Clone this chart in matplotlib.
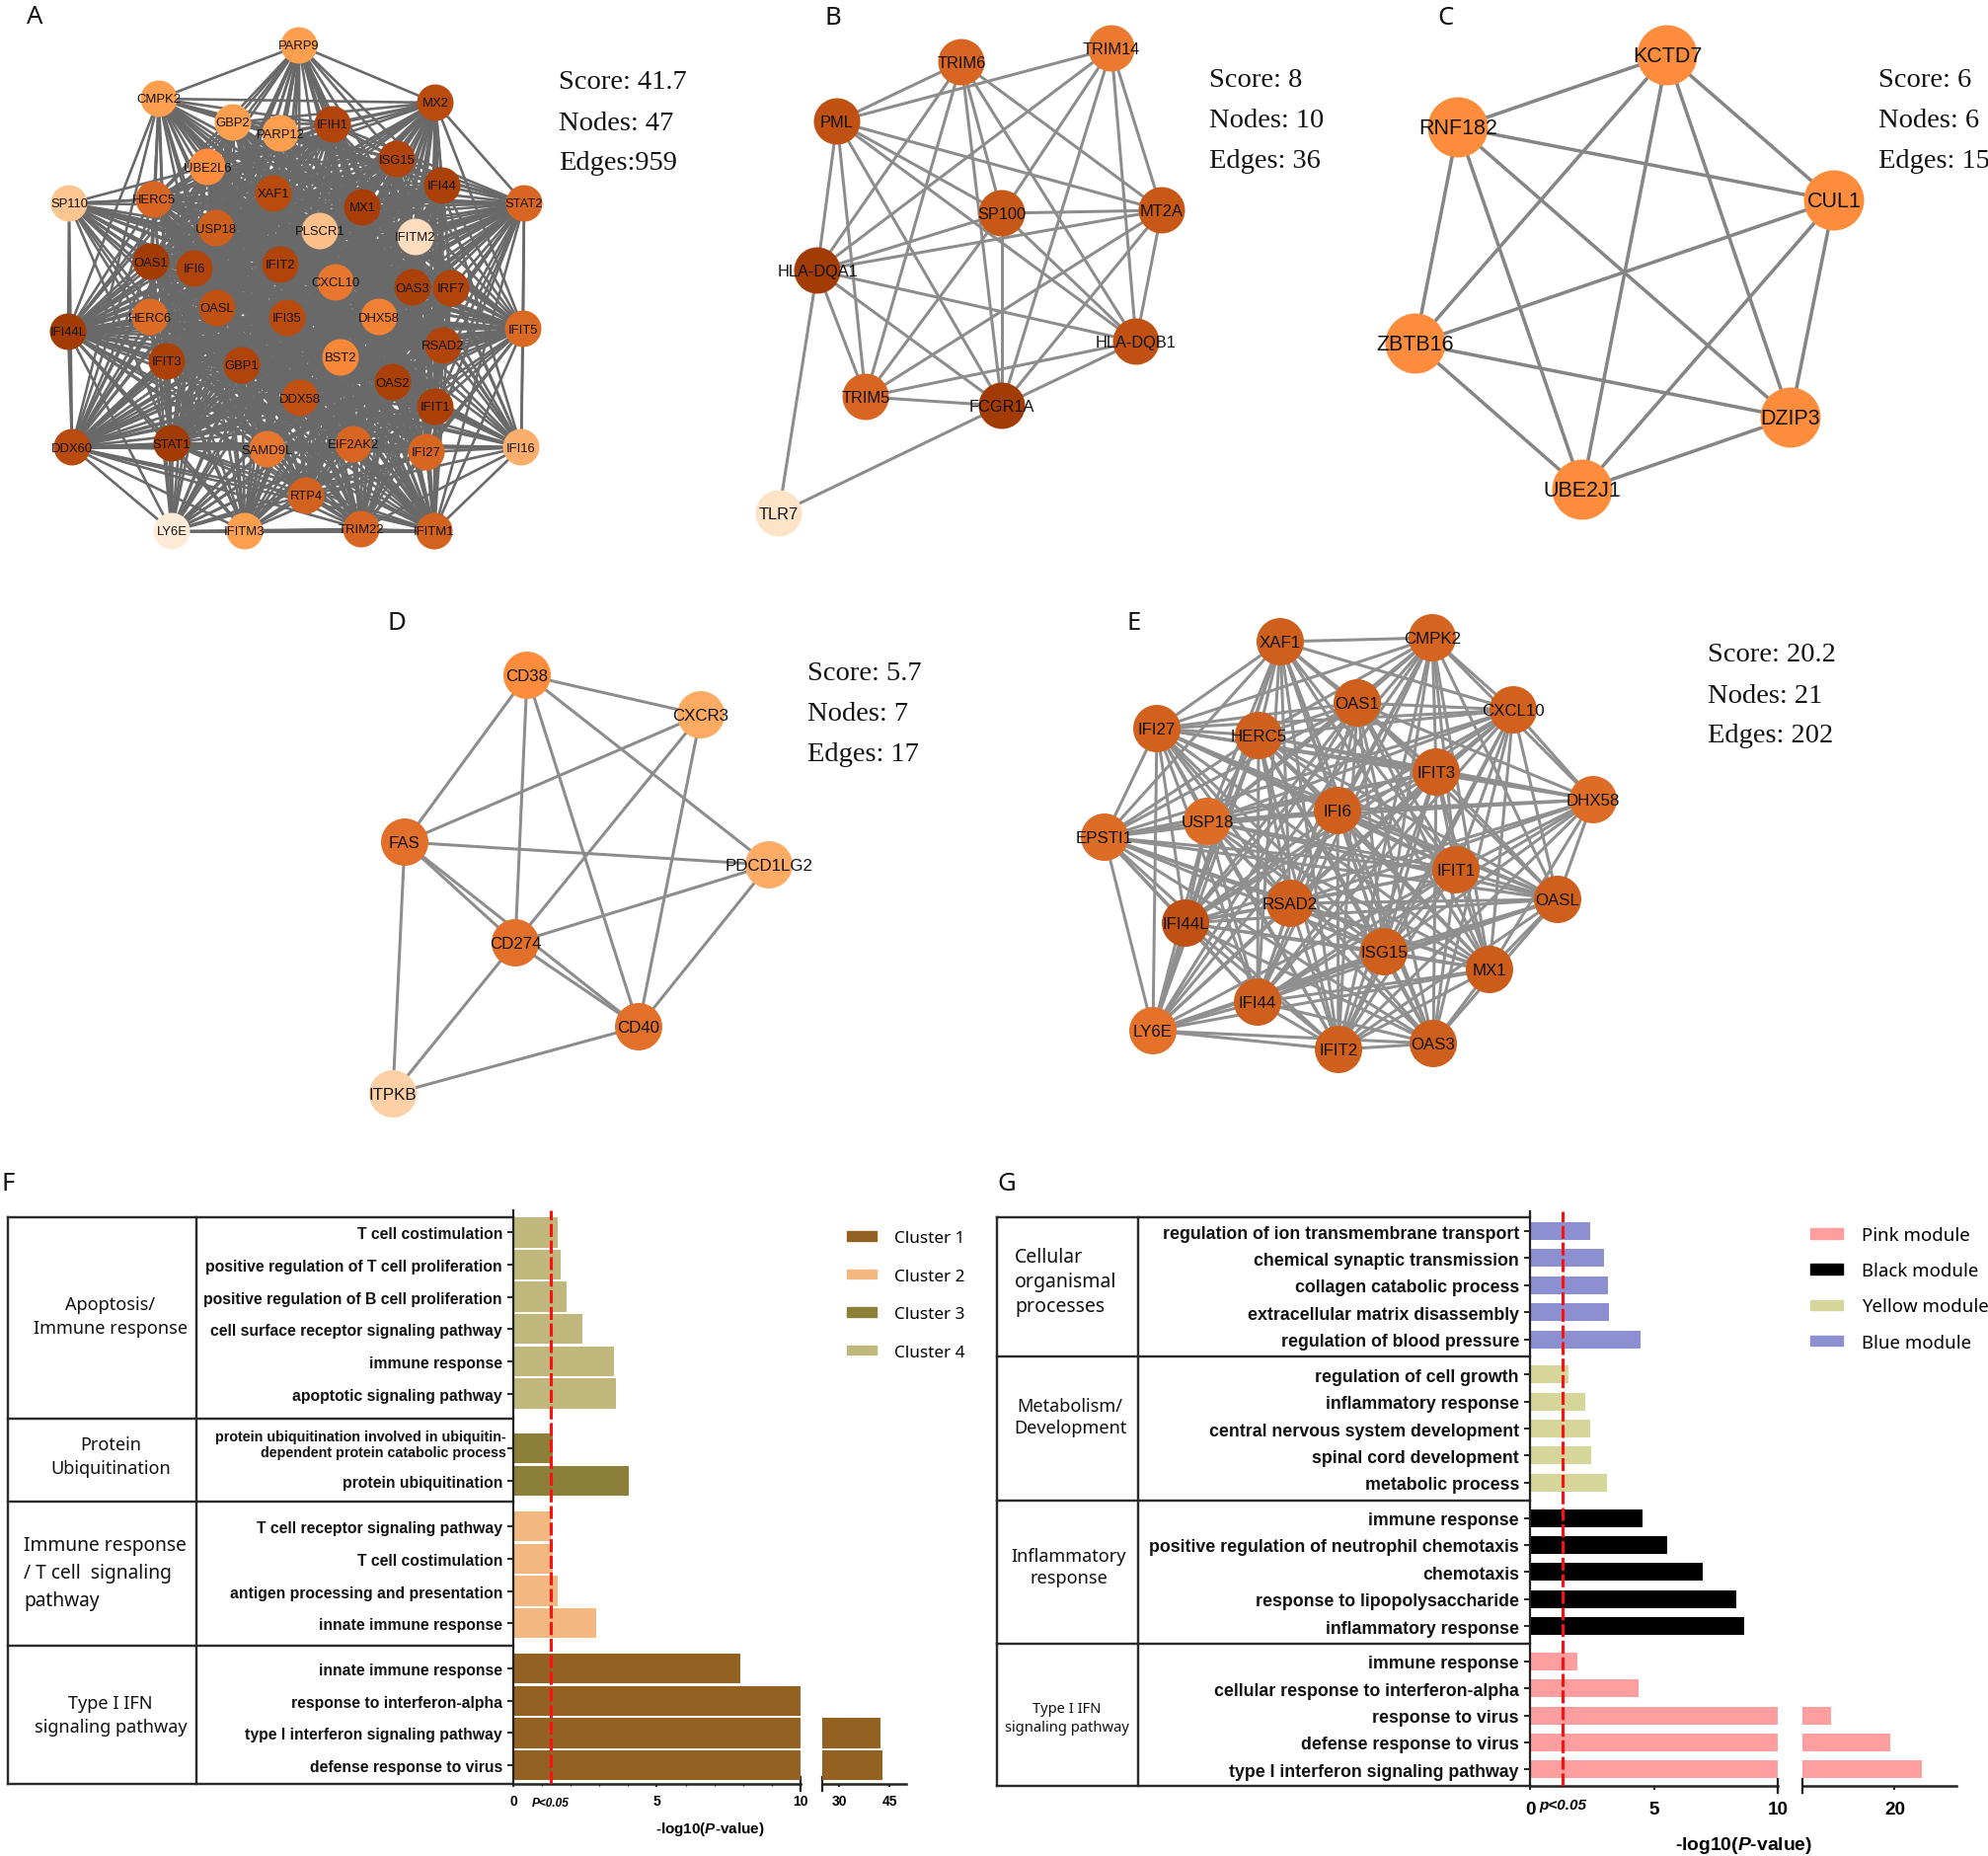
from itertools import combinations

import matplotlib
matplotlib.use("Agg")
import matplotlib.pyplot as plt
from matplotlib.colors import LinearSegmentedColormap
from matplotlib.patches import Patch

W, H = 2015, 1881
plt.rcParams["font.family"] = ["Liberation Sans", "DejaVu Sans"]
plt.rcParams["mathtext.fontset"] = "custom"
plt.rcParams["mathtext.bfit"] = "Liberation Sans:italic:bold"
plt.rcParams["mathtext.rm"] = "Liberation Sans:bold"

# panel A
a_names = ["PARP9", "CMPK2", "MX2", "GBP2", "PARP12", "IFIH1", "ISG15", "UBE2L6", "IFI44", "SP110",
           "HERC5", "XAF1", "MX1", "STAT2", "USP18", "PLSCR1", "IFITM2", "OAS1", "IFI6", "IFIT2",
           "CXCL10", "OAS3", "IRF7", "HERC6", "OASL", "IFI35", "DHX58", "IFI44L", "IFIT5", "RSAD2",
           "IFIT3", "GBP1", "BST2", "OAS2", "DDX58", "IFIT1", "DDX60", "STAT1", "SAMD9L", "EIF2AK2",
           "IFI27", "IFI16", "RTP4", "LY6E", "IFITM3", "TRIM22", "IFITM1"]
a_x = [303, 161, 441, 236, 284, 337, 402, 210, 448, 70,
       156, 277, 367, 531, 219, 324, 421, 153, 197, 284,
       340, 418, 457, 152, 220, 291, 384, 69, 530, 449,
       169, 245, 345, 398, 304, 441, 73, 174, 271, 358,
       432, 528, 310, 174, 248, 366, 440]
a_y = [47, 101, 105, 125, 136, 127, 162, 170, 189, 207,
       203, 197, 211, 207, 232, 235, 241, 266, 273, 269,
       287, 292, 293, 322, 313, 323, 322, 337, 334, 351,
       367, 371, 363, 388, 404, 413, 454, 450, 456, 451,
       459, 454, 503, 539, 539, 537, 539]
a_shade = [.4, .4, .88, .4, .4, .92, .92, .5, .95, .2,
           .72, .88, .97, .72, .78, .22, .08, 1., .92, .92,
           .62, .95, .92, .68, .85, .88, .56, 1., .7, .92,
           .95, .92, .53, .95, .85, .95, .88, 1., .62, .72,
           .72, .3, .75, 0., .4, .72, .75]
a_absent = {
    "SP110": ["CMPK2", "PARP9", "MX2", "STAT2", "GBP2", "PARP12", "IFIH1", "ISG15", "IFI44", "IFI16",
              "LY6E", "IFITM3", "TRIM22", "IFITM1", "IFITM2", "PLSCR1", "RTP4", "BST2"],
    "LY6E": ["PARP9", "CMPK2", "MX2", "GBP2", "PARP12", "IFIH1", "STAT2", "IFI16", "IFITM2", "PLSCR1",
             "BST2", "UBE2L6", "HERC5", "IFI44", "ISG15", "XAF1", "DHX58", "IFIT5"],
    "IFITM2": ["PARP9", "CMPK2", "GBP2", "PARP12", "IFI16", "IFITM3", "UBE2L6", "BST2", "PLSCR1",
               "DHX58", "RTP4", "SAMD9L", "TRIM22", "EIF2AK2", "DDX60", "HERC6", "IFI44L"],
    "PLSCR1": ["PARP9", "CMPK2", "IFI16", "UBE2L6", "GBP2", "PARP12", "RTP4", "TRIM22", "SAMD9L",
               "DDX60", "IFITM3", "DHX58", "HERC6", "IFIT5", "STAT2"],
    "IFI16": ["PARP9", "CMPK2", "UBE2L6", "GBP2", "PARP12", "HERC5", "USP18", "HERC6", "IFITM3",
              "SAMD9L", "BST2", "DHX58", "MX2", "IFI44L"],
    "PARP9": ["STAT2", "IFIT5", "DDX60", "IFI44L", "IFITM3", "RTP4", "TRIM22", "IFITM1", "SAMD9L",
              "BST2", "EIF2AK2", "HERC6"],
    "CMPK2": ["STAT2", "IFIT5", "IFITM3", "RTP4", "TRIM22", "IFITM1", "SAMD9L", "BST2", "EIF2AK2", "IFI27"],
    "IFITM3": ["GBP2", "PARP12", "UBE2L6", "BST2", "DHX58", "MX2", "STAT2", "IFIT5", "HERC5", "EIF2AK2"],
    "GBP2": ["RTP4", "TRIM22", "SAMD9L", "BST2"],
    "PARP12": ["RTP4", "TRIM22", "SAMD9L", "BST2"],
}

# panel B
b_names = ["TRIM6", "TRIM14", "PML", "SP100", "MT2A", "HLA-DQA1", "HLA-DQB1", "TRIM5", "FCGR1A", "TLR7"]
b_x = [974, 1126, 848, 1015, 1177, 828, 1151, 877, 1015, 789]
b_y = [64, 50, 124, 217, 214, 275, 347, 403, 412, 521]
b_shade = [.72, .6, .85, .82, .82, 1., .85, .72, 1., .05]
b_absent = {
    "TLR7": ["TRIM6", "TRIM14", "PML", "SP100", "MT2A", "HLA-DQB1", "TRIM5"],
    "TRIM14": ["TRIM6", "TRIM5"],
}

# panel C
c_names = ["KCTD7", "RNF182", "CUL1", "ZBTB16", "DZIP3", "UBE2J1"]
c_x = [1689, 1477, 1858, 1434, 1814, 1603]
c_y = [57, 130, 204, 349, 424, 497]
c_shade = [.5, .5, .5, .5, .5, .5]
c_absent = {}

# panel D
d_names = ["CD38", "CXCR3", "FAS", "PDCD1LG2", "CD274", "CD40", "ITPKB"]
d_x = [534, 710, 410, 779, 522, 647, 398]
d_y = [685, 725, 854, 877, 956, 1041, 1109]
d_shade = [.5, .33, .65, .32, .65, .65, .15]
d_absent = {"ITPKB": ["CD38", "CXCR3", "PDCD1LG2"], "CXCR3": ["PDCD1LG2"]}

# panel E
e_names = ["XAF1", "CMPK2", "OAS1", "CXCL10", "IFI27", "HERC5", "IFIT3", "DHX58", "IFI6", "USP18", "EPSTI1",
           "IFIT1", "OASL", "RSAD2", "IFI44L", "ISG15", "MX1", "IFI44", "LY6E", "IFIT2", "OAS3"]
e_x = [1297, 1451, 1375, 1533, 1172, 1275, 1455, 1614, 1355, 1223, 1119,
       1475, 1578, 1307, 1201, 1402, 1509, 1274, 1168, 1356, 1452]
e_y = [651, 647, 713, 720, 739, 746, 783, 811, 822, 833, 849,
       882, 912, 916, 936, 965, 983, 1016, 1045, 1064, 1058]
e_shade = [.78, .74, .78, .76, .76, .78, .78, .68, .78, .68, .68,
           .78, .78, .78, .85, .78, .8, .78, .64, .78, .78]
e_absent = {
    "XAF1": ["DHX58", "OASL"],
    "EPSTI1": ["CMPK2", "DHX58"],
    "LY6E": ["CXCL10", "DHX58"],
    "OAS3": ["DHX58", "CMPK2"],
}

# panel F
f_groups = ["Apoptosis/\nImmune response", "Protein\nUbiquitination",
            "Immune response\n/ T cell  signaling\npathway", "Type I IFN\nsignaling pathway"]
f_terms = ["T cell costimulation", "positive regulation of T cell proliferation",
           "positive regulation of B cell proliferation", "cell surface receptor signaling pathway",
           "immune response", "apoptotic signaling pathway",
           "protein ubiquitination involved in ubiquitin-\ndependent protein catabolic process",
           "protein ubiquitination",
           "T cell receptor signaling pathway", "T cell costimulation",
           "antigen processing and presentation", "innate immune response",
           "innate immune response", "response to interferon-alpha",
           "type I interferon signaling pathway", "defense response to virus"]
f_values = [1.53, 1.66, 1.86, 2.41, 3.52, 3.59, 1.36, 4.03, 1.31, 1.38, 1.53, 2.89, 7.9, 10, 42.4, 43]
f_group_sizes = [6, 2, 4, 4]
f_clusters = ["Cluster 1", "Cluster 2", "Cluster 3", "Cluster 4"]
f_cluster_colors = ["#946220", "#F2B880", "#8C7F38", "#BFB77C"]

# panel G
g_groups = ["Cellular\norganismal\nprocesses", "Metabolism/\nDevelopment",
            "Inflammatory\nresponse", "Type I IFN\nsignaling pathway"]
g_terms = ["regulation of ion transmembrane transport", "chemical synaptic transmission",
           "collagen catabolic process", "extracellular matrix disassembly", "regulation of blood pressure",
           "regulation of cell growth", "inflammatory response", "central nervous system development",
           "spinal cord development", "metabolic process",
           "immune response", "positive regulation of neutrophil chemotaxis", "chemotaxis",
           "response to lipopolysaccharide", "inflammatory response",
           "immune response", "cellular response to interferon-alpha", "response to virus",
           "defense response to virus", "type I interferon signaling pathway"]
g_values = [2.42, 2.99, 3.14, 3.2, 4.46, 1.57, 2.24, 2.42, 2.47, 3.12,
            4.56, 5.52, 6.98, 8.32, 8.63, 1.93, 4.38, 13.1, 19.5, 22.9]
g_group_sizes = [5, 5, 5, 5]
g_modules = ["Pink module", "Black module", "Yellow module", "Blue module"]
g_module_colors = ["#FF9E9E", "#000000", "#D6D69A", "#8C90D0"]

node_cmap = LinearSegmentedColormap.from_list(
    "nodes",
    [(0, "#FDEBD8"), (.15, "#FDD0A6"), (.3, "#FDAE6B"), (.4, "#FD9F4F"), (.5, "#FD8D3C"),
     (.65, "#E2702A"), (.8, "#CC5C1A"), (.9, "#B5470C"), (1, "#A33B04")],
)

fig = plt.figure(figsize=(W / 100, H / 100), dpi=100)
canvas = fig.add_axes([0, 0, 1, 1])
canvas.set_xlim(0, W)
canvas.set_ylim(H, 0)
canvas.axis("off")


def px_axes(x0, x1, y0, y1):
    ax = fig.add_axes([x0 / W, 1 - y1 / H, (x1 - x0) / W, (y1 - y0) / H])
    ax.patch.set_alpha(0)
    return ax


def draw_network(names, xs, ys, shades, absent, diameter, font_size, line_px, line_color):
    pos = dict(zip(names, zip(xs, ys)))
    for a, b in combinations(names, 2):
        if b in absent.get(a, []) or a in absent.get(b, []):
            continue
        canvas.plot([pos[a][0], pos[b][0]], [pos[a][1], pos[b][1]], color=line_color,
                    lw=line_px * 0.72, zorder=1, solid_capstyle="butt")
    canvas.scatter(xs, ys, s=(diameter * 0.72) ** 2, c=[node_cmap(float(s)) for s in shades],
                   linewidths=0, zorder=2)
    for name, x, y in zip(names, xs, ys):
        canvas.text(x, y + 0.5, name, fontsize=font_size, ha="center", va="center", color="#111111", zorder=3)


def draw_stats(x, ys, lines):
    for y, line in zip(ys, lines):
        canvas.text(x, y, line, family="Liberation Serif", fontsize=20.5, ha="left", va="baseline", color="#111111")


def row_positions(sizes, gaps):
    rows, pos = [], 0
    for size, gap in zip(sizes, gaps + [0]):
        rows += [pos + i for i in range(size)]
        pos += size - 1 + gap
    return rows


def draw_table(x_left, x_mid, x_right, y_lines, lw_px):
    for y in y_lines:
        canvas.plot([x_left, x_right], [y, y], color="#2b2b2b", lw=lw_px * 0.72, zorder=1)
    for x in (x_left, x_mid):
        canvas.plot([x, x], [y_lines[0], y_lines[-1]], color="#2b2b2b", lw=lw_px * 0.72, zorder=1)


def draw_bars(terms, values, rows, colors, geom, ylim, break_lim, bar_h, first_ticks, second_ticks, minor_ticks,
              term_size, tick_size, line_x, tick_len, tick_pad):
    x0, x10, x2a, x2b, y0, y1 = geom
    ax1 = px_axes(x0, x10, y0, y1)
    ax2 = px_axes(x2a, x2b, y0, y1)
    for ax in (ax1, ax2):
        ax.barh(rows, values, height=bar_h, color=colors, linewidth=0)
        ax.set_ylim(*ylim)
        for side in ("top", "right"):
            ax.spines[side].set_visible(False)
        ax.spines["bottom"].set_linewidth(1.8)
        ax.spines["bottom"].set_color("#222222")
    ax1.set_xlim(0, 10)
    ax2.set_xlim(*break_lim)
    ax1.spines["left"].set_linewidth(1.6)
    ax1.spines["left"].set_color("#222222")
    ax2.spines["left"].set_visible(False)
    ax2.set_yticks([])

    ax1.set_yticks(rows)
    ax1.set_yticklabels(["" if "\n" in t else t for t in terms], fontweight="bold", fontsize=term_size,
                        color="#111111")
    ax1.tick_params(axis="y", length=4, width=1.2, pad=4)
    ax1.set_xticks(first_ticks)
    ax1.set_xticks(minor_ticks, minor=True)
    ax2.set_xticks(second_ticks)
    for ax in (ax1, ax2):
        ax.tick_params(axis="x", which="major", length=tick_len, width=1.2, pad=tick_pad, labelsize=tick_size)
        ax.tick_params(axis="x", which="minor", length=1.5, width=1)
        for lab in ax.get_xticklabels():
            lab.set_fontweight("bold")
    ax1.axvline(line_x, color="#FF1010", lw=2.2, linestyle=(0, (4.3, 1.2)), zorder=5)
    # taller caps either side of the axis break
    for x in (x10, x2a):
        canvas.plot([x, x], [y1 - 7, y1 + 7], color="#222222", lw=1.6, zorder=6)
    return ax1, ax2


# networks
draw_network(a_names, a_x, a_y, a_shade, a_absent, 37, 9.4, 2.6, "#696969")
draw_network(b_names, b_x, b_y, b_shade, b_absent, 47, 11.8, 3, "#8C8C8C")
draw_network(c_names, c_x, c_y, c_shade, c_absent, 61, 15.5, 3.5, "#858585")
draw_network(d_names, d_x, d_y, d_shade, d_absent, 48, 12.2, 3, "#8C8C8C")
draw_network(e_names, e_x, e_y, e_shade, e_absent, 48, 12.2, 3, "#8F8F8F")

draw_stats(566, [90, 132, 172], ["Score: 41.7", "Nodes: 47", "Edges:959"])
draw_stats(1225, [87.5, 129, 170], ["Score: 8", "Nodes: 10", "Edges: 36"])
draw_stats(1903, [87.5, 129, 170], ["Score: 6", "Nodes: 6", "Edges: 15"])
draw_stats(818, [689, 730, 771], ["Score: 5.7", "Nodes: 7", "Edges: 17"])
draw_stats(1730, [669.5, 712, 752], ["Score: 20.2", "Nodes: 21", "Edges: 202"])

for letter, x, y in [("A", 27, 17.5), ("B", 836, 18.5), ("C", 1456, 18.5), ("D", 393, 632), ("E", 1142, 632),
                     ("F", 1, 1200), ("G", 1010, 1200)]:
    canvas.text(x, y, letter, family="Noto Sans", fontsize=18.5, ha="left", va="center", color="#111111")

# panel F
f_rows = row_positions(f_group_sizes, [1.71, 1.42, 1.41])
f_bar_colors = [f_cluster_colors[3]] * 6 + [f_cluster_colors[2]] * 2 + [f_cluster_colors[1]] * 4 + [f_cluster_colors[0]] * 4
draw_table(8, 199, 520, [1234, 1438, 1522, 1668, 1808], 2.4)
draw_bars(f_terms, f_values, f_rows, f_bar_colors, (520, 811, 833, 918, 1227, 1808), (17.12, -0.685),
          (25, 50), 0.93, [0, 5, 10], [30, 45], list(range(0, 11)), 11.3, 10, 1.31, 2.5, 4.7)
canvas.text(513, 1464, f_terms[6], fontsize=10.3, fontweight="bold", ha="right", va="center", multialignment="right",
            linespacing=1.2, color="#111111", zorder=3)

for text, x, y, ha, size, spacing in [(f_groups[0], 112, 1334, "center", 13, 1.4),
                                      (f_groups[1], 112, 1476, "center", 13, 1.4),
                                      (f_groups[2], 24, 1594, "left", 13.8, 1.5),
                                      (f_groups[3], 112, 1738, "center", 13, 1.4)]:
    canvas.text(x, y, text, family="Noto Sans", fontsize=size, ha=ha, va="center", linespacing=spacing, color="#111111")
canvas.text(558, 1827, "P<0.05", fontsize=8.6, fontweight="bold", style="italic", ha="center", va="center")
canvas.text(719, 1853, r"-log10($\mathbfit{P}$-value)", fontsize=11, fontweight="bold", ha="center", va="center")
fig.legend(handles=[Patch(color=c, label=n) for c, n in zip(f_cluster_colors, f_clusters)],
           loc="upper left", bbox_to_anchor=(858 / W, 1 - 1247 / H), frameon=False, prop={"family": "Noto Sans", "size": 12.3},
           handlelength=1.76, handleheight=0.5, labelspacing=1.32, handletextpad=1.06, borderpad=0, borderaxespad=0)

# panel G
g_rows = row_positions(g_group_sizes, [1.31, 1.31, 1.31])
g_bar_colors = [g_module_colors[3]] * 5 + [g_module_colors[2]] * 5 + [g_module_colors[1]] * 5 + [g_module_colors[0]] * 5
draw_table(1010, 1153, 1550, [1234, 1375, 1521, 1666, 1810], 2.4)
draw_bars(g_terms, g_values, g_rows, g_bar_colors, (1550, 1801, 1826, 1982, 1228, 1810), (20.54, -0.735),
          (10, 26.7), 0.66, [0, 5, 10], [20], [], 12.75, 13.6, 1.3, 3, 8)

for text, x, y, ha, size, spacing in [(g_groups[0], 1028, 1299, "left", 14, 1.32),
                                      (g_groups[1], 1084, 1436, "center", 13, 1.3),
                                      (g_groups[2], 1083, 1588, "center", 13, 1.3),
                                      (g_groups[3], 1081, 1741, "center", 10.6, 1.4)]:
    canvas.text(x, y, text, family="Noto Sans", fontsize=size, ha=ha, va="center", linespacing=spacing, color="#111111")
canvas.text(1583, 1829, "p<0.05", fontsize=11, fontweight="bold", style="italic", ha="center", va="center")
canvas.text(1767, 1870, r"-log10($\mathbfit{P}$-value)", fontsize=13.9, fontweight="bold", ha="center", va="center")
fig.legend(handles=[Patch(color=c, label=n) for c, n in zip(g_module_colors, g_modules)],
           loc="upper left", bbox_to_anchor=(1834 / W, 1 - 1243 / H), frameon=False, prop={"family": "Noto Sans", "size": 13.4},
           handlelength=1.8, handleheight=0.5, labelspacing=0.98, handletextpad=1.0, borderpad=0, borderaxespad=0)

fig.savefig("out.png", dpi=100, facecolor="white")
